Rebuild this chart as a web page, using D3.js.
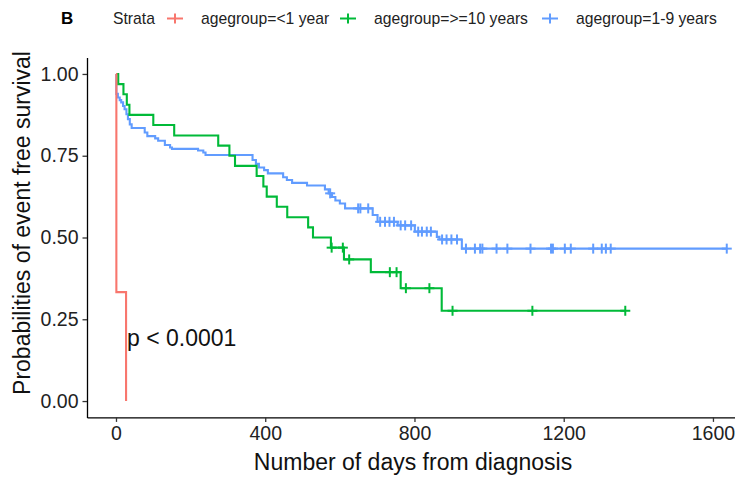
<!DOCTYPE html>
<html><head><meta charset="utf-8">
<script src="https://cdn.jsdelivr.net/npm/d3@7"></script>
<style>
html,body{margin:0;padding:0;background:#fff;}
svg{display:block;font-family:"Liberation Sans",Arial,sans-serif;}
</style></head>
<body>
<svg id="chart" width="735" height="478"></svg>
<script>
// ---------- data ----------
const strata = ["agegroup=<1 year", "agegroup=>=10 years", "agegroup=1-9 years"];
const colors = ["#F8766D", "#00BA38", "#619CFF"];

const redTimes = [0, 1, 27];
const redSurv  = [1, 0.333, 0];
const redEnd = 27;
const redCensor = [];

const greenTimes = [0, 6, 20, 29, 36, 100, 156, 274, 304, 319, 377, 395, 404, 431, 459, 515, 528, 576, 611, 683, 763, 873];
const greenSurv  = [1, 0.969, 0.938, 0.906, 0.875, 0.844, 0.812, 0.781, 0.750, 0.719, 0.688, 0.656, 0.625, 0.594, 0.562, 0.531, 0.500, 0.469, 0.433, 0.394, 0.345, 0.276];
const greenEnd = 1365;
const greenCensor = [578, 608, 625, 734, 752, 777, 840, 902, 1116, 1365];

const blueTimes = [0, 1, 5, 10, 14, 19, 23, 28, 32, 37, 42, 77, 84, 105, 113, 131, 145, 150, 220, 234, 240, 366, 375, 383, 397, 407, 448, 458, 472, 512, 560, 570, 579, 588, 600, 614, 688, 701, 755, 801, 860, 867, 927];
const blueSurv  = [1, 0.939, 0.928, 0.920, 0.913, 0.902, 0.892, 0.877, 0.862, 0.846, 0.835, 0.821, 0.810, 0.803, 0.796, 0.783, 0.775, 0.771, 0.766, 0.760, 0.752, 0.737, 0.725, 0.714, 0.706, 0.696, 0.684, 0.676, 0.667, 0.659, 0.647, 0.635, 0.624, 0.613, 0.604, 0.589, 0.569, 0.548, 0.537, 0.518, 0.502, 0.494, 0.466];
const blueEnd = 1637;
const blueCensor = [574, 649, 655, 676, 708, 721, 733, 745, 763, 775, 791, 810, 820, 833, 844, 874, 886, 899, 914, 938, 962, 976, 982, 1020, 1049, 1111, 1166, 1171, 1203, 1219, 1279, 1302, 1313, 1326, 1637];

const xTicks = [0, 400, 800, 1200, 1600];
const yTicks = [0, 0.25, 0.5, 0.75, 1];
const panelLetter = "B";
const legendTitle = "Strata";
const pText = "p < 0.0001";
const xTitle = "Number of days from diagnosis";
const yTitle = "Probabilities of event free survival";

// ---------- layout ----------
const svg = d3.select("#chart");
const x = d3.scaleLinear().domain([-77.7, 1669.8]).range([87, 739]);
const y = d3.scaleLinear().domain([-0.05, 1.05]).range([417.4, 57.6]);

const series = [
  {times: redTimes, surv: redSurv, end: redEnd, censor: redCensor, color: colors[0]},
  {times: greenTimes, surv: greenSurv, end: greenEnd, censor: greenCensor, color: colors[1]},
  {times: blueTimes, surv: blueSurv, end: blueEnd, censor: blueCensor, color: colors[2]}
];

const line = d3.line().x(d => x(d[0])).y(d => y(d[1])).curve(d3.curveStepAfter);
const plot = svg.append("g");

// draw order: blue, green, red (red on top at start)
[2, 1, 0].forEach(i => {
  const s = series[i];
  const pts = s.times.map((t, k) => [t, s.surv[k]]);
  pts.push([s.end, s.surv[s.surv.length - 1]]);
  plot.append("path").datum(pts)
    .attr("fill", "none").attr("stroke", s.color)
    .attr("stroke-width", 2.1).attr("stroke-linejoin", "miter")
    .attr("d", line);
  const survAt = t => s.surv[Math.max(0, d3.bisectRight(s.times, t) - 1)];
  const g = plot.append("g").attr("stroke", s.color).attr("stroke-width", 2);
  s.censor.forEach(t => {
    const cx = x(t), cy = y(survAt(t));
    g.append("line").attr("x1", cx - 5).attr("x2", cx + 5).attr("y1", cy).attr("y2", cy);
    g.append("line").attr("x1", cx).attr("x2", cx).attr("y1", cy - 5).attr("y2", cy + 5);
  });
});

// ---------- axes ----------
const xAxis = svg.append("g").attr("transform", "translate(0,417.4)")
  .call(d3.axisBottom(x).tickValues(xTicks).tickSize(4.5).tickSizeOuter(0).tickPadding(4).tickFormat(d3.format("d")));
const yAxis = svg.append("g").attr("transform", "translate(87,0)")
  .call(d3.axisLeft(y).tickValues(yTicks).tickSize(4.5).tickSizeOuter(0).tickPadding(4).tickFormat(d3.format(".2f")));
[xAxis, yAxis].forEach(a => {
  a.select(".domain").attr("stroke", "#000").attr("stroke-width", 1.3);
  a.selectAll(".tick line").attr("stroke", "#333").attr("stroke-width", 1.3);
  a.selectAll(".tick text").attr("fill", "#222").attr("font-size", 19.5)
    .attr("font-family", "Liberation Sans, Arial, sans-serif");
});

// axis titles
svg.append("text").attr("x", 413).attr("y", 470).attr("text-anchor", "middle")
  .attr("font-size", 23).attr("fill", "#111").text(xTitle);
svg.append("text").attr("transform", "translate(30,223) rotate(-90)").attr("text-anchor", "middle")
  .attr("font-size", 23).attr("fill", "#111").text(yTitle);

// p-value
svg.append("text").attr("x", 127).attr("y", 346).attr("font-size", 23).attr("fill", "#111").text(pText);

// ---------- legend ----------
svg.append("text").attr("x", 61).attr("y", 24).attr("font-size", 17).attr("font-weight", "bold")
  .attr("font-family", "Liberation Sans Narrow, Liberation Sans, Arial, sans-serif").text(panelLetter);
const leg = svg.append("g").attr("font-size", 15.7).attr("fill", "#222");
leg.append("text").attr("x", 113).attr("y", 24).text(legendTitle);
const legX = [175, 348, 550];
strata.forEach((s, i) => {
  const cx = legX[i], cy = 18.5;
  const g = leg.append("g").attr("stroke", colors[i]).attr("stroke-width", 2);
  g.append("line").attr("x1", cx - 8).attr("x2", cx + 8).attr("y1", cy).attr("y2", cy);
  g.append("line").attr("x1", cx).attr("x2", cx).attr("y1", cy - 5).attr("y2", cy + 5);
  leg.append("text").attr("x", cx + 26).attr("y", 24).text(s);
});
</script>
</body></html>
